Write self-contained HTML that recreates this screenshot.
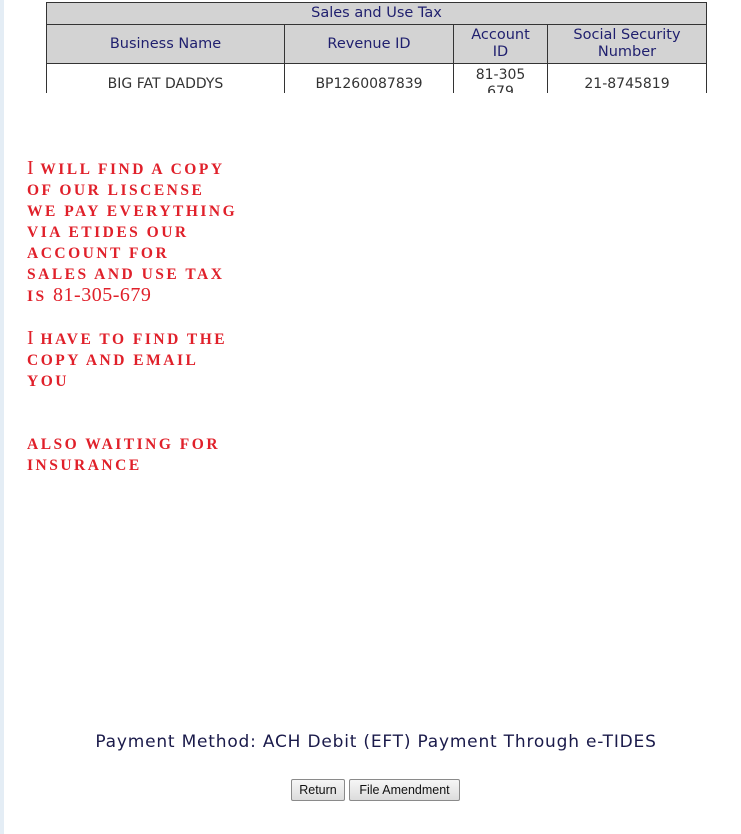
<!DOCTYPE html>
<html><head><style>
body{margin:0;width:741px;height:834px;background:#fff;position:relative;overflow:hidden;font-family:"DejaVu Sans",Verdana,sans-serif}
.lb{position:absolute;left:0;top:0;width:4px;height:834px;background:#e4edf5}
table{position:absolute;left:46px;top:2px;border-collapse:collapse;width:661px;color:#1f1f6e;font-size:14.5px}
td{border:1px solid #333;text-align:center;padding:0;line-height:17px}
.wrap{position:absolute;left:0;top:0;width:741px;height:93px;overflow:hidden}
.hd{background:#d3d3d3}
.d td{color:#333;font-size:14px}
.note{position:absolute;left:27px;top:158px;color:#e0202a;font-family:"Liberation Serif",serif;font-weight:bold;font-size:15.5px;line-height:21px;letter-spacing:2.5px;white-space:pre}
.note b{font-size:20px;font-weight:normal;letter-spacing:0.5px}
.pm{position:absolute;left:0;width:752px;top:732px;text-align:center;font-size:17px;letter-spacing:0.8px;color:#1a1a4a}
.btn{position:absolute;top:779px;height:22px;border:1px solid #8a8a8a;border-radius:2px;background:linear-gradient(#f6f6f6,#dcdcdc);font-family:"Liberation Sans",sans-serif;font-size:12.5px;line-height:21px;text-align:center;color:#111;box-sizing:border-box}
</style></head><body>
<div class="lb"></div>
<div class="wrap">
<table>
<tr class="hd"><td colspan="4" style="height:21px">Sales and Use Tax</td></tr>
<tr class="hd"><td style="width:237px;height:38px">Business Name</td><td style="width:168px">Revenue ID</td><td style="width:93px">Account<br>ID</td><td>Social Security<br>Number</td></tr>
<tr class="d"><td style="height:40px">BIG FAT DADDYS</td><td>BP1260087839</td><td>81-305<br>679</td><td>21-8745819</td></tr>
</table>
</div>
<div class="note"><b>I</b> WILL FIND A COPY
OF OUR LISCENSE
WE PAY EVERYTHING
VIA ETIDES OUR
ACCOUNT FOR
SALES AND USE TAX
IS <b>81-305-679</b>

<b>I</b> HAVE TO FIND THE
COPY AND EMAIL
YOU


ALSO WAITING FOR
INSURANCE</div>
<div class="pm">Payment Method: ACH Debit (EFT) Payment Through e-TIDES</div>
<div class="btn" style="left:291px;width:54px">Return</div>
<div class="btn" style="left:349px;width:111px">File Amendment</div>
</body></html>
